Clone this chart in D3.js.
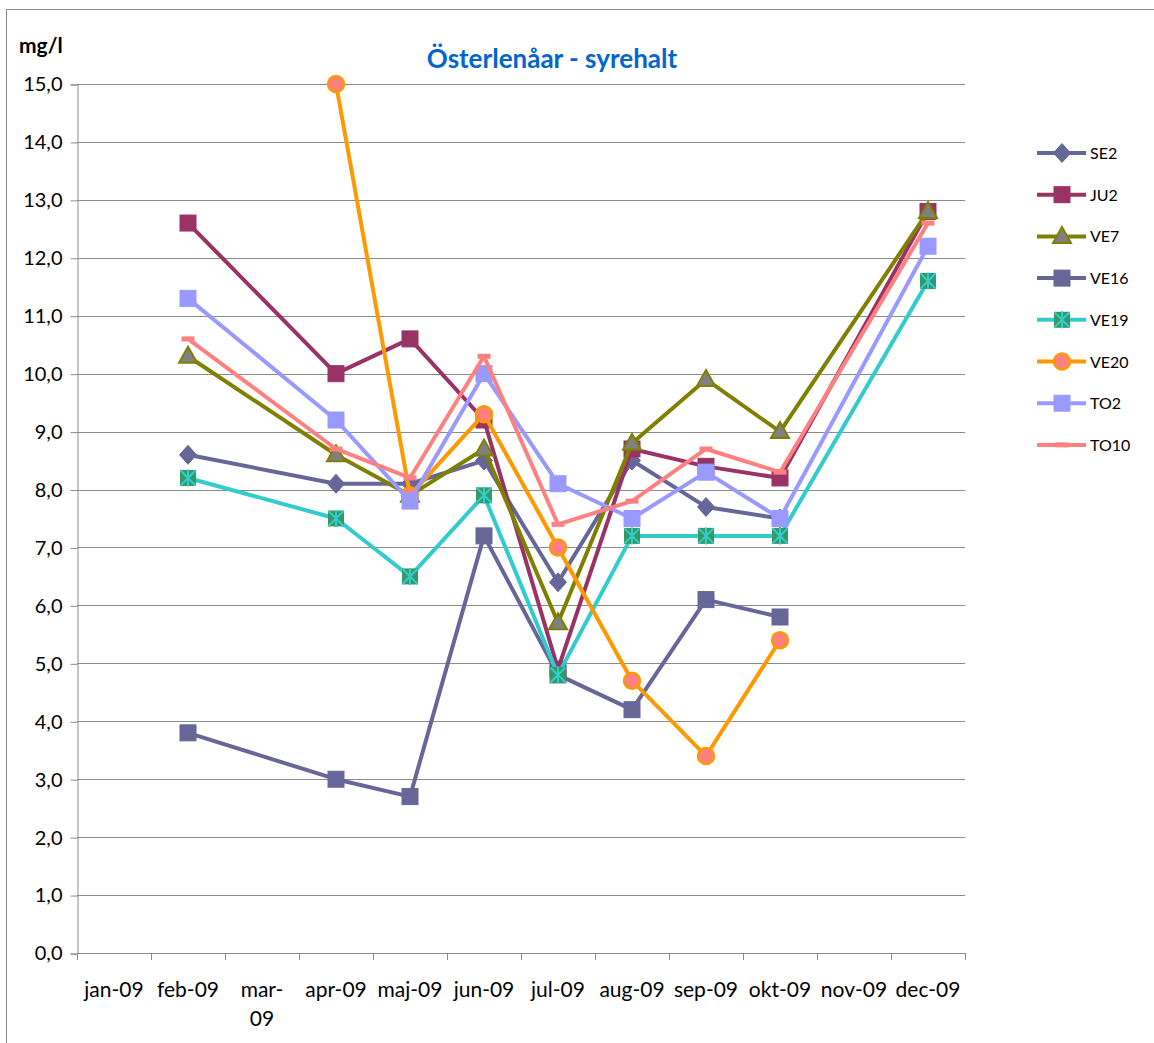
<!DOCTYPE html>
<html>
<head>
<meta charset="utf-8">
<script src="https://cdn.jsdelivr.net/npm/d3@7"></script>
<style>
  html, body { margin: 0; padding: 0; background: #fff; }
  svg { display: block; font-family: Lato, "Open Sans", sans-serif; }
</style>
</head>
<body>
<svg id="chart" width="1154" height="1043"></svg>
<script>
// Months on the category axis
const months = ["jan-09","feb-09","mar-09","apr-09","maj-09","jun-09","jul-09","aug-09","sep-09","okt-09","nov-09","dec-09"];

// Dissolved oxygen (mg/l) per sampling station, one value per month (null = no sample)
const SE2  = [null, 8.6, null, 8.1, 8.1, 8.5, 6.4, 8.5, 7.7, 7.5, null, null];
const JU2  = [null, 12.6, null, 10.0, 10.6, 9.2, 4.9, 8.7, 8.4, 8.2, null, 12.8];
const VE7  = [null, 10.3, null, 8.6, 7.9, 8.7, 5.7, 8.8, 9.9, 9.0, null, 12.8];
const VE16 = [null, 3.8, null, 3.0, 2.7, 7.2, 4.8, 4.2, 6.1, 5.8, null, null];
const VE19 = [null, 8.2, null, 7.5, 6.5, 7.9, 4.8, 7.2, 7.2, 7.2, null, 11.6];
const VE20 = [null, null, null, 15.0, 7.9, 9.3, 7.0, 4.7, 3.4, 5.4, null, null];
const TO2  = [null, 11.3, null, 9.2, 7.8, 10.0, 8.1, 7.5, 8.3, 7.5, null, 12.2];
const TO10 = [null, 10.6, null, 8.7, 8.2, 10.3, 7.4, 7.8, 8.7, 8.3, null, 12.6];

// Value axis ticks
const yTicks = d3.range(0, 16, 1);

// Series styling
const series = [
  { name: "SE2",  values: SE2,  line: "#666699", marker: "diamond",  fill: "#666699", stroke: "#666699" },
  { name: "JU2",  values: JU2,  line: "#993366", marker: "square",   fill: "#993366", stroke: "#993366" },
  { name: "VE7",  values: VE7,  line: "#808000", marker: "triangle", fill: "#808080", stroke: "#808000" },
  { name: "VE16", values: VE16, line: "#666699", marker: "square",   fill: "#666699", stroke: "#666699" },
  { name: "VE19", values: VE19, line: "#33CCCC", marker: "star",     fill: "#339966", stroke: "#33CCCC" },
  { name: "VE20", values: VE20, line: "#FF9900", marker: "circle",   fill: "#FF8080", stroke: "#FF9900" },
  { name: "TO2",  values: TO2,  line: "#9999FF", marker: "square",   fill: "#9999FF", stroke: "#9999FF" },
  { name: "TO10", values: TO10, line: "#FF8080", marker: "dash",     fill: "#FF8080", stroke: "#FF8080" }
];

const svg = d3.select("#chart");
const plot = { left: 77, right: 965, top: 84, bottom: 953 };
const gridColor = "#8c8c8c";

const locale = d3.formatLocale({ decimal: ",", thousands: " ", grouping: [3], currency: ["", " kr"] });
const fmt = locale.format(".1f");

const x = d3.scaleBand().domain(months).range([plot.left, plot.right]).padding(0);
const y = d3.scaleLinear().domain([0, 15]).range([plot.bottom, plot.top]);
const cx = m => x(m) + x.bandwidth() / 2;

// Outer chart frame
svg.append("rect")
  .attr("x", 6.5).attr("y", 9.5).attr("width", 2000).attr("height", 2000)
  .attr("fill", "#fff").attr("stroke", "#8c8c8c").attr("stroke-width", 1);

// Horizontal gridlines
svg.append("g").selectAll("line")
  .data(yTicks.filter(t => t > 0))
  .join("line")
  .attr("x1", plot.left).attr("x2", plot.right)
  .attr("y1", d => Math.round(y(d)) + 0.5).attr("y2", d => Math.round(y(d)) + 0.5)
  .attr("stroke", gridColor).attr("stroke-width", 1);

// Y axis
const yAxis = svg.append("g")
  .attr("transform", `translate(${plot.left + 0.5},0.5)`)
  .call(d3.axisLeft(y).tickValues(yTicks).tickFormat(fmt).tickSize(7).tickPadding(8));
yAxis.select(".domain").attr("stroke", gridColor);
yAxis.selectAll(".tick line").attr("stroke", gridColor);
yAxis.selectAll(".tick text").attr("font-size", 20).attr("fill", "#000")
  .attr("font-family", "Lato, sans-serif");

// X axis line and tick marks at category boundaries
const xg = svg.append("g");
xg.append("line")
  .attr("x1", plot.left).attr("x2", plot.right)
  .attr("y1", plot.bottom + 0.5).attr("y2", plot.bottom + 0.5)
  .attr("stroke", gridColor);
const boundaries = months.map(m => x(m)).concat([x(months[months.length - 1]) + x.bandwidth()]);
xg.selectAll("line.tick")
  .data(boundaries)
  .join("line").attr("class", "tick")
  .attr("x1", d => Math.round(d) + 0.5).attr("x2", d => Math.round(d) + 0.5)
  .attr("y1", plot.bottom).attr("y2", plot.bottom + 7)
  .attr("stroke", gridColor);

// Category labels (mar-09 wraps onto two lines)
const xl = xg.selectAll("text.lbl")
  .data(months)
  .join("text").attr("class", "lbl")
  .attr("text-anchor", "middle")
  .attr("font-size", 21)
  .attr("fill", "#000");
xl.each(function(m) {
  const t = d3.select(this);
  const parts = m === "mar-09" ? ["mar-", "09"] : [m];
  parts.forEach((p, i) => {
    t.append("tspan").attr("x", cx(m)).attr("y", 997 + i * 29).text(p);
  });
});

// Marker drawing
function drawMarker(g, type, fill, stroke) {
  if (type === "square") {
    g.append("rect").attr("x", -8).attr("y", -8).attr("width", 16).attr("height", 16)
      .attr("fill", fill).attr("stroke", stroke).attr("stroke-width", 1);
  } else if (type === "diamond") {
    g.append("path").attr("d", "M0,-9.5L8.5,0L0,9.5L-8.5,0Z")
      .attr("fill", fill).attr("stroke", stroke).attr("stroke-width", 1);
  } else if (type === "triangle") {
    g.append("path").attr("d", "M0,-9.5L9,6.5L-9,6.5Z")
      .attr("fill", fill).attr("stroke", stroke).attr("stroke-width", 2);
  } else if (type === "circle") {
    g.append("circle").attr("r", 8)
      .attr("fill", fill).attr("stroke", stroke).attr("stroke-width", 2.5);
  } else if (type === "star") {
    g.append("rect").attr("x", -8).attr("y", -8).attr("width", 16).attr("height", 16)
      .attr("fill", fill);
    g.append("path").attr("d", "M-7.5,-7.5L7.5,7.5M-7.5,7.5L7.5,-7.5M0,-8.5L0,8.5")
      .attr("stroke", stroke).attr("stroke-width", 2).attr("fill", "none");
  } else if (type === "dash") {
    g.append("rect").attr("x", -6.5).attr("y", -2.5).attr("width", 13).attr("height", 5)
      .attr("fill", fill);
  }
}

const line = d3.line().x(d => cx(d.m)).y(d => y(d.v));

// Series: line then markers
series.forEach(s => {
  const pts = months.map((m, i) => ({ m, v: s.values[i] })).filter(d => d.v !== null);
  const g = svg.append("g").attr("class", "series");
  g.append("path").datum(pts)
    .attr("d", line)
    .attr("fill", "none").attr("stroke", s.line)
    .attr("stroke-width", 4).attr("stroke-linejoin", "round");
  g.selectAll("g.mk").data(pts).join("g").attr("class", "mk")
    .attr("transform", d => `translate(${cx(d.m)},${y(d.v)})`)
    .each(function() { drawMarker(d3.select(this), s.marker, s.fill, s.stroke); });
});

// Legend
const legend = svg.append("g").attr("transform", "translate(1037,153)");
series.forEach((s, i) => {
  const row = legend.append("g").attr("transform", `translate(0,${i * 41.7})`);
  row.append("line").attr("x1", 0).attr("x2", 49).attr("y1", 0).attr("y2", 0)
    .attr("stroke", s.line).attr("stroke-width", 4);
  const mk = row.append("g").attr("transform", "translate(25,0)");
  drawMarker(mk, s.marker, s.fill, s.stroke);
  row.append("text").attr("x", 53).attr("y", 6).attr("font-size", 16).attr("fill", "#000").text(s.name);
});

// Title and unit label
svg.append("text")
  .attr("x", 552).attr("y", 68).attr("text-anchor", "middle")
  .attr("font-size", 26).attr("font-weight", "bold").attr("fill", "#0066CC")
  .text("Österlenåar - syrehalt");
svg.append("text")
  .attr("x", 19).attr("y", 53)
  .attr("font-size", 21).attr("font-weight", "bold").attr("fill", "#000")
  .text("mg/l");
</script>
</body>
</html>
